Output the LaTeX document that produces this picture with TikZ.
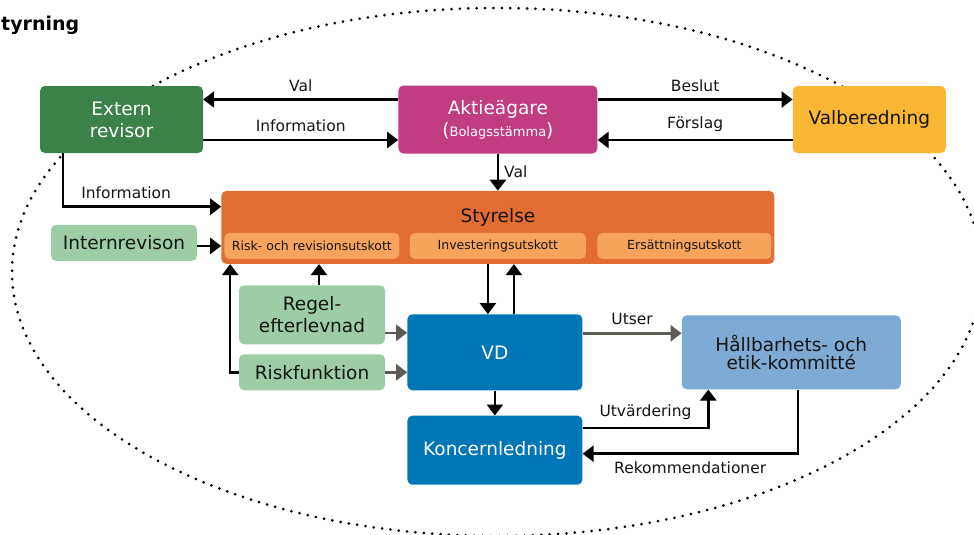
\documentclass[tikz,border=0pt]{standalone}
\usepackage{fontspec}
\setmainfont{DejaVu Sans}
\usetikzlibrary{positioning, arrows.meta}

\definecolor{revgreen}{HTML}{3A8249}
\definecolor{ownerpink}{HTML}{C23C82}
\definecolor{nomyellow}{HTML}{FAB734}
\definecolor{boardorange}{HTML}{E06E33}
\definecolor{cmtorange}{HTML}{F6A35B}
\definecolor{ctrlgreen}{HTML}{9CCDA6}
\definecolor{ceoblue}{HTML}{0076B7}
\definecolor{ethicsblue}{HTML}{7DABD6}
\definecolor{arrowgray}{HTML}{5E5A54}
\definecolor{inkdark}{HTML}{151515}

\begin{document}
\begin{tikzpicture}[x=1pt, y=1pt, auto]
            \tikzstyle{box} = [rectangle, rounded corners=5pt, inner sep=0pt, align=center,
                font=\fontsize{18.5}{22}\selectfont]
            \tikzstyle{darkbox} = [box, text=white]
            \tikzstyle{lightbox} = [box, text=inkdark]
            \tikzstyle{cmt} = [box, fill=cmtorange, text=inkdark, minimum height=26pt,
                font=\fontsize{12.5}{14}\selectfont]
            \tikzstyle{lbl} = [font=\fontsize{15.5}{17}\selectfont, text=inkdark, inner sep=1pt]
            \tikzstyle{line} = [draw, line width=2.5pt, -{Triangle[length=11pt, width=16pt]}]
            \tikzstyle{grayline} = [line, draw=arrowgray]
            \tikzstyle{dots} = [draw, line width=3pt, line cap=round, dash pattern=on 0pt off 8.4pt]

            \clip (0,0) rectangle (974,-535);

            % surrounding dotted ring
            \path [dots] (497,-272) ellipse [x radius=485pt, y radius=264pt];

            \node [anchor=base west, font=\bfseries\fontsize{19}{22}\selectfont, inner sep=0pt] (title) at (1,-31) {tyrning};

            \node [darkbox, fill=revgreen, minimum width=163pt, minimum height=67pt] (revisor) at (121.5,-119.5) {Extern\\revisor};
            \node [darkbox, fill=ownerpink, minimum width=199pt, minimum height=68pt, right=195pt of revisor] (owners)
                {Aktieägare\\({\fontsize{13}{15}\selectfont Bolagsstämma})};
            \node [lightbox, fill=nomyellow, minimum width=153pt, minimum height=67pt, right=195pt of owners] (nomination) {Valberedning};

            \node [lightbox, fill=boardorange, minimum width=553pt, text height=32pt, text depth=41pt, below=37pt of owners] (board) {Styrelse};
            \node [cmt, minimum width=175pt, above right=5pt and 3pt of board.south west] (riskcmt) {Risk- och revisionsutskott};
            \node [cmt, minimum width=176pt, above=5pt of board.south] (investcmt) {Investeringsutskott};
            \node [cmt, minimum width=174pt, above left=5pt and 3pt of board.south east] (paycmt) {Ersättningsutskott};
            \node [lightbox, fill=ctrlgreen, minimum width=146pt, minimum height=36pt,
                left=24pt of board.south west, anchor=south east, yshift=3pt] (internal) {Internrevison};

            \node [darkbox, fill=ceoblue, minimum width=175pt, minimum height=76pt, below=50pt of board, xshift=-3pt] (ceo) {VD};
            \node [darkbox, fill=ceoblue, minimum width=175pt, minimum height=69pt, below=25pt of ceo] (groupmgmt) {Koncernledning};
            \node [lightbox, fill=ethicsblue, minimum width=219pt, minimum height=74pt, right=99pt of ceo,
                font=\fontsize{18.5}{18}\selectfont] (ethics) {Hållbarhets- och\\etik-kommitté};
            \node [lightbox, fill=ctrlgreen, minimum width=146pt, minimum height=59pt,
                left=22pt of ceo.north west, anchor=north east, yshift=29pt] (compliance) {Regel-\\efterlevnad};
            \node [lightbox, fill=ctrlgreen, minimum width=146pt, minimum height=36pt,
                left=22pt of ceo.south west, anchor=south east] (riskfn) {Riskfunktion};

            \coordinate (boardin) at ([yshift=-16pt]board.north west);
            \coordinate (riskup) at ([xshift=9pt]board.south west);
            \coordinate (ceoin) at ([xshift=-7pt]ceo.north);
            \coordinate (ceoout) at ([xshift=19pt]ceo.north);
            \coordinate (ethicsin) at ([xshift=-83pt]ethics.south);
            \coordinate (ethicsout) at ([xshift=6.5pt]ethics.south);

            \path [line] ([yshift=20pt]owners.west) -- node [lbl, above=6pt] {Val} ([yshift=20pt]owners.west -| revisor.east);
            \path [line] ([yshift=-20.5pt]revisor.east) -- node [lbl, above=6pt] {Information} ([yshift=-20.5pt]revisor.east -| owners.west);
            \path [line] ([yshift=20pt]owners.east) -- node [lbl, above=6pt] {Beslut} ([yshift=20pt]owners.east -| nomination.west);
            \path [line] ([yshift=-20.5pt]nomination.west) -- node [lbl, above=6pt] {Förslag} ([yshift=-20.5pt]nomination.west -| owners.east);
            \path [line] (owners) -- node [lbl, right=4pt] {Val} (board);
            \path [line] ([xshift=23pt]revisor.south west) |- node [lbl, above=6pt, pos=0.7] {Information} (boardin);
            \path [line] ([yshift=-3pt]internal.east) -- ([yshift=-3pt]internal.east -| board.west);
            \path [line] ([xshift=7pt]compliance.north) -- ([xshift=7pt]compliance.north |- board.south);
            \path [line] (riskfn.west) -| (riskup);
            \path [line] (ceoin |- board.south) -- (ceoin);
            \path [line] (ceoout) -- (ceoout |- board.south);
            \path [grayline] ([yshift=-18pt]compliance.east) -- ([yshift=-18pt]compliance.east -| ceo.west);
            \path [grayline] (riskfn.east) -- (riskfn.east -| ceo.west);
            \path [grayline] ([yshift=19pt]ceo.east) -- node [lbl, above=6pt] {Utser} ([yshift=19pt]ceo.east -| ethics.west);
            \path [line] (ceo) -- (groupmgmt);
            \path [line] ([yshift=22pt]groupmgmt.east) -| node [lbl, above=6pt, pos=0.25] {Utvärdering} (ethicsin);
            \path [line] (ethicsout) |- node [lbl, below=6pt, pos=0.75] {Rekommendationer} ([yshift=-3.5pt]groupmgmt.east);
        \end{tikzpicture}
\end{document}
